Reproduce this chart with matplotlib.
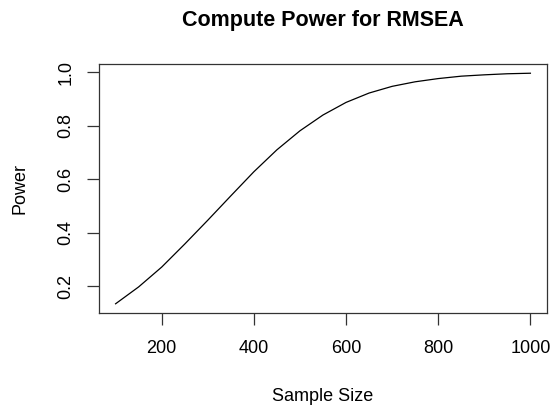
import numpy as np
import matplotlib
matplotlib.use("Agg")
import matplotlib.pyplot as plt

plt.rcParams['font.family'] = ['Liberation Sans', 'DejaVu Sans']

# power of the RMSEA test by sample size
sample_size = [100, 150, 200, 250, 300, 350, 400, 450, 500, 550,
               600, 650, 700, 750, 800, 850, 900, 950, 1000]
power = [0.135, 0.198, 0.272, 0.358, 0.447, 0.538, 0.628, 0.710, 0.781, 0.840,
         0.887, 0.922, 0.947, 0.964, 0.976, 0.985, 0.990, 0.994, 0.996]
xticks = [200, 400, 600, 800, 1000]
yticks = [0.2, 0.4, 0.6, 0.8, 1.0]

fig = plt.figure(figsize=(5.52, 4.09), dpi=100)
ax = fig.add_axes([99/552, 1-313/409, 448/552, 249/409])

ax.plot(sample_size, power, color='black', lw=0.9)

# R style 4% padding
xr = max(sample_size) - min(sample_size)
yr = max(power) - min(power)
ax.set_xlim(min(sample_size) - 0.04*xr, max(sample_size) + 0.04*xr)
ax.set_ylim(min(power) - 0.04*yr, max(power) + 0.04*yr)

ax.set_xticks(xticks)
ax.set_xticklabels([str(v) for v in xticks])
ax.set_yticks(yticks)
ax.set_yticklabels(['%.1f' % v for v in yticks], rotation=90, va='center')

for s in ax.spines.values():
    s.set_color('#333333')
    s.set_linewidth(0.9)
ax.tick_params(length=8.6, width=0.9, color='#333333', labelsize=13)
ax.tick_params(axis='x', pad=11)
ax.tick_params(axis='y', pad=9)

ax.set_xlabel('Sample Size', fontsize=13, labelpad=22)
ax.set_ylabel('Power', fontsize=13, labelpad=21)

fig.text(323/552, 1-26/409, 'Compute Power for RMSEA', ha='center', va='baseline',
         fontsize=15.5, fontweight='bold')

fig.savefig('out.png', dpi=100)
